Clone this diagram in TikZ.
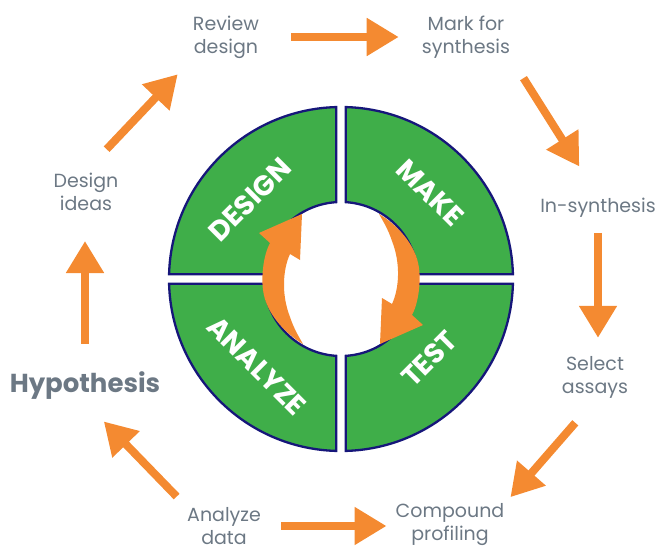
\documentclass[tikz,border=0pt]{standalone}
\usepackage{fontspec}
\setmainfont{Poppins}
\usepackage{xcolor}
\usetikzlibrary{arrows.meta, calc}

\definecolor{dmtaOrange}{HTML}{F48A31}
\definecolor{dmtaGreen}{HTML}{3FAE49}
\definecolor{dmtaNavy}{HTML}{16167A}
\definecolor{dmtaGray}{HTML}{6C7884}

\begin{document}
\begin{tikzpicture}[
        x=1pt, y=1pt,
        task/.style={text=dmtaGray, align=center, inner sep=2pt, font=\fontsize{19}{23}\selectfont},
        phase/.style={text=white, inner sep=0pt, font=\fontsize{28}{28}\selectfont\bfseries},
        flow/.style={-{Triangle[width=36pt, length=32pt]}, line width=8pt, draw=dmtaOrange},
        quarter/.pic={
            \filldraw[fill=dmtaGreen, draw=dmtaNavy, line width=2.3pt]
                (1.6:172) arc[start angle=1.6, end angle=88.4, radius=172pt]
                -- (86.5:77) arc[start angle=86.5, end angle=3.5, radius=77pt] -- cycle;
        },
        turn/.pic={
            \fill[dmtaOrange] (-38,-65) .. controls (-55,-55) and (-75,-35) .. (-78,-11)
                .. controls (-80,5) and (-77,25) .. (-71,36)
                -- (-82,46) -- (-39,65) -- (-41,19) -- (-51,25)
                .. controls (-58,10) and (-60,-15) .. (-51,-38)
                .. controls (-47,-50) and (-42,-58) .. cycle;
        }
    ]
        \useasboundingbox (0,0) rectangle (661,547);

        % DMTA ring
        \coordinate (hub) at (341,268);
        \pic at (hub) {quarter};
        \pic[rotate=90] at (hub) {quarter};
        \pic[rotate=180] at (hub) {quarter};
        \pic[rotate=270] at (hub) {quarter};

        % inner cycle arrows
        \pic at (hub) {turn};
        \pic[rotate=180] at (hub) {turn};

        % phase names
        \node[phase, rotate=45] (design) at ($(hub)+(139:121)$) {DESIGN};
        \node[phase, rotate=-45] (make) at ($(hub)+(44:124)$) {MAKE};
        \node[phase, rotate=-45] (analyze) at ($(hub)+(226:121)$) {ANALYZE};
        \node[phase, rotate=45] (test) at ($(hub)+(318:119)$) {TEST};

        % outer steps
        \node[task] (review) at (226,510) {Review\\design};
        \node[task] (mark) at (466,510) {Mark for\\synthesis};
        \node[task] (insyn) at (598,339) {In-synthesis};
        \node[task] (assays) at (595,170) {Select\\assays};
        \node[task] (profiling) at (450,22) {Compound\\profiling};
        \node[task] (data) at (224,21) {Analyze\\data};
        \node[task, font=\fontsize{26}{30}\selectfont\bfseries] (hyp) at (85,161) {Hypothesis};
        \node[task] (ideas) at (86,355) {Design\\ideas};

        % step arrows
        \draw[flow, shorten <=26pt, shorten >=28pt] (hyp.north) -- (hyp.north |- ideas.south);
        \draw[flow, shorten <=30pt, shorten >=19pt] (ideas.north) -- (review.south west);
        \draw[flow, shorten <=30pt, shorten >=21pt] (review.east) -- (review.east -| mark.west);
        \draw[flow, shorten <=21pt, shorten >=35pt] (mark.south east) -- (insyn.north);
        \draw[flow, shorten <=13pt, shorten >=16pt] (insyn.south) -- (insyn.south |- assays.north);
        \draw[flow, shorten <=30pt, shorten >=6pt] (assays.south) -- (profiling.north east);
        \draw[flow, shorten <=18pt, shorten >=7pt] (data.east) -- (data.east -| profiling.west);
        \draw[flow, shorten <=12pt, shorten >=27pt] (data.north west) -- (hyp.south);
    \end{tikzpicture}
\end{document}
